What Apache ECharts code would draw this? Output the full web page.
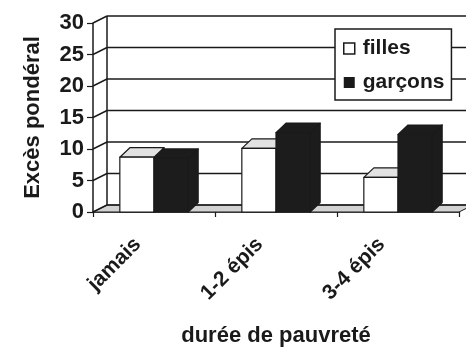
<!DOCTYPE html>
<html><head><meta charset="utf-8">
<script src="https://cdn.jsdelivr.net/npm/echarts@6/dist/echarts.min.js"></script>
<style>html,body{margin:0;padding:0;background:#fff}#c{width:466px;height:352px}</style>
</head><body><div id="c"></div>
<script>
const categories = ['jamais', '1-2 épis', '3-4 épis'];
const filles = [8.7, 10.1, 5.5];
const garcons = [8.5, 12.6, 12.3];
const yTicks = [0, 5, 10, 15, 20, 25, 30];
const seriesNames = ['filles', 'garçons'];
const xTitle = 'durée de pauvreté';
const yTitle = 'Excès pondéral';

const FONT = '"Liberation Sans", Arial, sans-serif';
const INK = '#1a1a1a';
const WALL_DX = 14, WALL_DY = -7;
const BAR_DX = 10, BAR_DY = -9.5;
const BAR_FRAC = 0.28;

function wallItem(params, api) {
  const v = api.value(1);
  const p = api.coord([0, v]);
  const cw = api.size([1, 0])[0];
  const left = p[0] - cw / 2;
  const right = left + cw * categories.length;
  const y = p[1];
  const children = [];
  const ls = {stroke: INK, lineWidth: 1.5};
  if (v === yTicks[0]) {
    children.push({type: 'polygon', shape: {points: [[left, y], [right, y], [right + WALL_DX, y + WALL_DY], [left + WALL_DX, y + WALL_DY]]},
      style: {fill: '#d2d2d2', stroke: INK, lineWidth: 1}});
    const top = api.coord([0, yTicks[yTicks.length - 1]])[1];
    children.push({type: 'line', shape: {x1: left + WALL_DX, y1: y + WALL_DY, x2: left + WALL_DX, y2: top + WALL_DY}, style: ls});
  }
  children.push({type: 'line', shape: {x1: left, y1: y, x2: left + WALL_DX, y2: y + WALL_DY}, style: ls});
  children.push({type: 'line', shape: {x1: left + WALL_DX, y1: y + WALL_DY, x2: right + WALL_DX + 20, y2: y + WALL_DY}, style: ls});
  return {type: 'group', children};
}

function barRenderer(side, face, topCol, sideCol) {
  return function (params, api) {
    const i = api.value(0), v = api.value(1);
    const base = api.coord([i, 0]);
    const tp = api.coord([i, v]);
    const cw = api.size([1, 0])[0];
    const w = cw * BAR_FRAC;
    const x0 = base[0] + (side < 0 ? -w : 0), x1 = x0 + w;
    const yb = base[1], yt = tp[1];
    const st = {stroke: INK, lineWidth: 1.2, lineJoin: 'round'};
    return {type: 'group', children: [
      {type: 'polygon', shape: {points: [[x1, yb], [x1, yt], [x1 + BAR_DX, yt + BAR_DY], [x1 + BAR_DX, yb + BAR_DY]]}, style: Object.assign({fill: sideCol}, st)},
      {type: 'polygon', shape: {points: [[x0, yt], [x1, yt], [x1 + BAR_DX, yt + BAR_DY], [x0 + BAR_DX, yt + BAR_DY]]}, style: Object.assign({fill: topCol}, st)},
      {type: 'rect', shape: {x: x0, y: yt, width: w, height: yb - yt}, style: Object.assign({fill: face}, st)}
    ]};
  };
}

const chart = echarts.init(document.getElementById('c'), null, {renderer: 'canvas'});
const bold = (size) => ({fontFamily: FONT, fontWeight: 'bold', fontSize: size, color: INK});
chart.setOption({
  animation: false,
  backgroundColor: '#fff',
  grid: {left: 93, right: 7, top: 23, bottom: 139},
  legend: {
    orient: 'vertical', left: 335, top: 29,
    backgroundColor: '#fff', borderColor: INK, borderWidth: 1.5, borderRadius: 0,
    padding: [9, 7, 7, 8], itemGap: 13, itemWidth: 11, itemHeight: 11,
    textStyle: Object.assign({padding: [0, 0, 0, 3]}, bold(21)),
    data: [
      {name: seriesNames[0], icon: 'rect', itemStyle: {color: '#fff', borderColor: INK, borderWidth: 1.5}},
      {name: seriesNames[1], icon: 'rect', itemStyle: {color: INK, borderWidth: 0}}
    ]
  },
  xAxis: {
    type: 'category', data: categories,
    axisLine: {show: true, lineStyle: {color: INK, width: 1.5}},
    axisTick: {show: true, length: 5, lineStyle: {color: INK, width: 1.2}},
    axisLabel: Object.assign({rotate: 45, margin: 13, padding: [0, 23, 0, 0], interval: 0}, bold(21)),
    name: xTitle, nameLocation: 'middle', nameGap: 113,
    nameTextStyle: bold(22)
  },
  yAxis: {
    type: 'value', min: 0, max: 30, interval: 5,
    axisLine: {show: true, lineStyle: {color: INK, width: 1.5}},
    axisTick: {show: true, length: 6, lineStyle: {color: INK, width: 1.2}},
    axisLabel: Object.assign({margin: 9}, bold(22)),
    splitLine: {show: false},
    name: yTitle, nameLocation: 'middle', nameGap: 49, nameRotate: 90,
    nameTextStyle: bold(22)
  },
  series: [
    {type: 'custom', name: 'walls', z: 1, silent: true, clip: false,
      data: yTicks.map(v => [0, v]), encode: {x: 0, y: 1}, renderItem: wallItem},
    {type: 'custom', name: seriesNames[0], z: 2, clip: false,
      itemStyle: {color: '#fff', borderColor: INK},
      data: filles.map((v, i) => [i, v]), encode: {x: 0, y: 1},
      renderItem: barRenderer(-1, '#ffffff', '#e2e2e2', '#bdbdbd')},
    {type: 'custom', name: seriesNames[1], z: 3, clip: false,
      itemStyle: {color: INK},
      data: garcons.map((v, i) => [i, v]), encode: {x: 0, y: 1},
      renderItem: barRenderer(1, '#1c1c1c', '#1c1c1c', '#1c1c1c')}
  ]
});
</script></body></html>
